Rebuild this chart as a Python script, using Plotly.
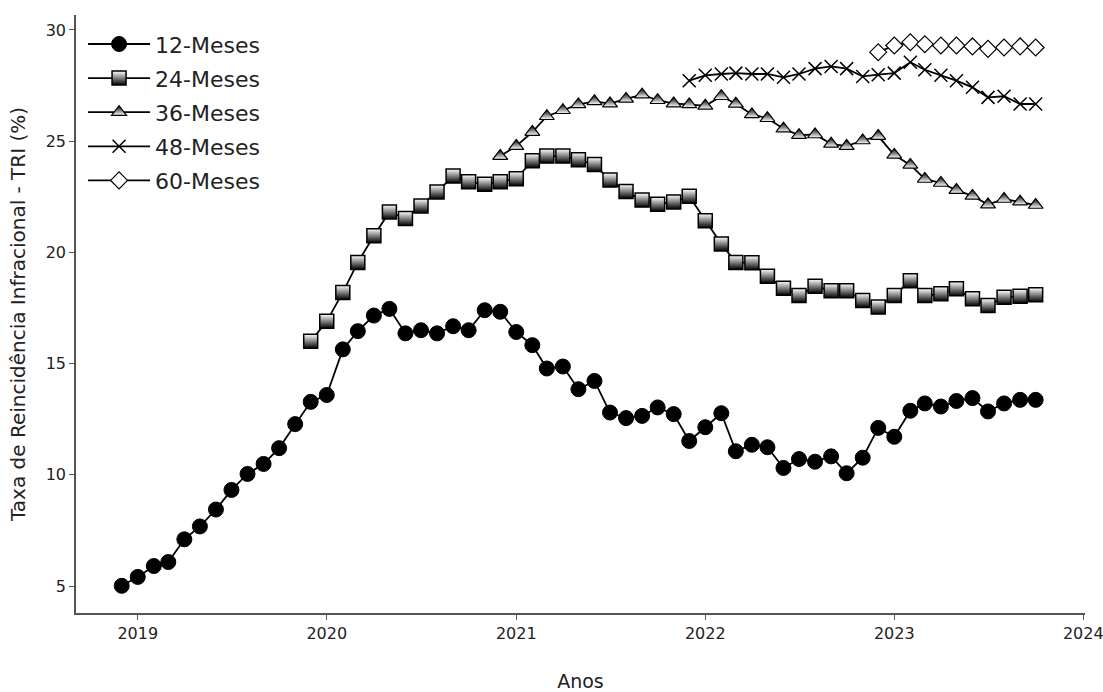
import pandas as pd
import plotly.graph_objects as go

# ---- data ----
labels = ["12-Meses", "24-Meses", "36-Meses", "48-Meses", "60-Meses"]
start_dates = ["2018-12-01", "2019-12-01", "2020-12-01", "2021-12-01", "2022-12-01"]

v12 = [5.01,
       5.41, 5.90, 6.08, 7.10, 7.68, 8.44, 9.32, 10.04, 10.49, 11.20, 12.28, 13.28,
       13.59, 15.64, 16.46, 17.16, 17.46, 16.36, 16.50, 16.36, 16.68, 16.50, 17.40, 17.33,
       16.42, 15.83, 14.78, 14.87, 13.85, 14.22, 12.80, 12.55, 12.65, 13.03, 12.73, 11.52,
       12.14, 12.77, 11.06, 11.35, 11.24, 10.31, 10.71, 10.59, 10.83, 10.07, 10.77, 12.11,
       11.71, 12.88, 13.21, 13.07, 13.32, 13.45, 12.85, 13.21, 13.37, 13.37]
v24 = [16.00,
       16.90, 18.20, 19.55, 20.75, 21.82, 21.52, 22.09, 22.72, 23.43, 23.17, 23.06, 23.18,
       23.31, 24.12, 24.33, 24.33, 24.17, 23.95, 23.25, 22.74, 22.35, 22.16, 22.27, 22.52,
       21.42, 20.38, 19.55, 19.53, 18.93, 18.39, 18.06, 18.48, 18.28, 18.28, 17.84, 17.54,
       18.06, 18.73, 18.06, 18.14, 18.36, 17.91, 17.61, 17.98, 18.03, 18.09]
v36 = [24.33,
       24.78, 25.41, 26.12, 26.39, 26.65, 26.79, 26.69, 26.90, 27.09, 26.84, 26.69, 26.65,
       26.59, 27.02, 26.68, 26.20, 26.03, 25.56, 25.27, 25.30, 24.88, 24.78, 25.03, 25.23,
       24.38, 23.93, 23.30, 23.12, 22.80, 22.54, 22.15, 22.40, 22.28, 22.13]
v48 = [27.72,
       27.96, 28.02, 28.06, 28.02, 28.02, 27.87, 28.02, 28.26, 28.36, 28.26, 27.91, 27.99,
       28.06, 28.55, 28.21, 27.96, 27.72, 27.42, 26.97, 27.02, 26.67, 26.67]
v60 = [29.00,
       29.30, 29.45, 29.36, 29.30, 29.30, 29.26, 29.15, 29.21, 29.26, 29.21]
series = [v12, v24, v36, v48, v60]

y_ticks = [5, 10, 15, 20, 25, 30]
x_title = "Anos"
y_title = "Taxa de Reincidência Infracional - TRI (%)"

# ---- styles ----
styles = [
    dict(symbol="circle", size=15, color="black", line=dict(color="black", width=1)),
    dict(symbol="square", size=14, color="white", line=dict(color="black", width=1.5),
         gradient=dict(type="vertical", color="black")),
    dict(symbol="triangle-up", size=13, color="black", line=dict(color="black", width=1.2),
         gradient=dict(type="vertical", color="white")),
    dict(symbol="x-thin", size=13, color="black", line=dict(color="black", width=1.5)),
    dict(symbol="diamond", size=13, color="white", line=dict(color="black", width=1.2)),
]

fig = go.Figure()
all_x = []
all_y = []
for i, (lab, sd, vals) in enumerate(zip(labels, start_dates, series)):
    xs = pd.date_range(sd, periods=len(vals), freq="MS")
    all_x.extend(list(xs))
    all_y.extend(vals)
    fig.add_trace(go.Scatter(
        x=xs, y=vals, mode="lines+markers", name=lab,
        legendgroup=lab,
        line=dict(color="black", width=1.8),
        marker=styles[i],
    ))

# matplotlib-like margins around the data
xmin, xmax = min(all_x), max(all_x)
xpad = (xmax - xmin) * 0.05
ymin, ymax = min(all_y), max(all_y)
ypad = (ymax - ymin) * 0.05

font_family = "DejaVu Sans"
fig.update_layout(
    width=1103, height=692,
    paper_bgcolor="white", plot_bgcolor="white",
    margin=dict(l=76, r=18, t=15, b=79),
    font=dict(family=font_family, color="#222222", size=16),
    showlegend=True,
    legend=dict(x=0.007, y=0.9863, xanchor="left", yanchor="top",
                bgcolor="rgba(0,0,0,0)", font=dict(size=22, family=font_family),
                tracegroupgap=2.5, itemwidth=62),
    xaxis=dict(
        range=[xmin - xpad, xmax + xpad * 1.08],
        dtick="M12", tickformat="%Y", tick0="2019-01-01",
        showgrid=False, zeroline=False, automargin=False,
        showline=True, linecolor="#555555", linewidth=1.5,
        ticks="outside", ticklen=5, tickcolor="#555555", tickwidth=1,
        tickfont=dict(size=16), ticklabeloverflow="allow",
        title=dict(text=x_title, font=dict(size=19), standoff=35),
    ),
    yaxis=dict(
        range=[ymin - ypad, ymax + ypad],
        tickvals=y_ticks,
        showgrid=False, zeroline=False, automargin=False,
        showline=True, linecolor="#555555", linewidth=1.5,
        ticks="outside", ticklen=5, tickcolor="#555555", tickwidth=1,
        tickfont=dict(size=16),
        title=dict(text=y_title, font=dict(size=20), standoff=15),
    ),
)

# remove the page's default body margin so the figure fills the window exactly
fig.write_html(
    "out.html",
    config={"displayModeBar": False},
    post_script="document.body.style.margin='0';document.body.style.overflow='hidden';",
)
